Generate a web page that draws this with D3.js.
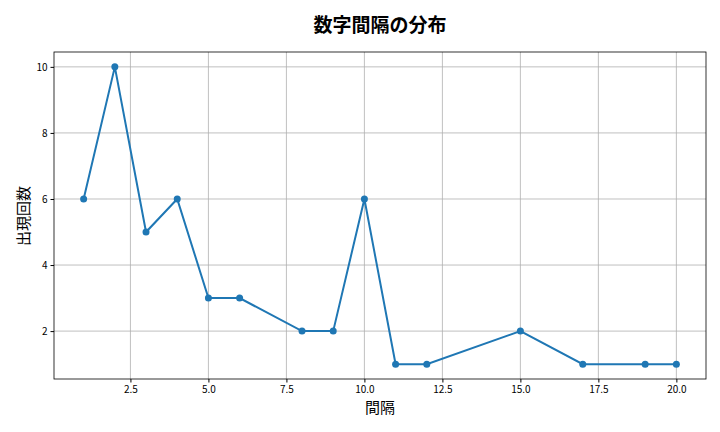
<!DOCTYPE html>
<html><head><meta charset="utf-8">
<script src="https://cdn.jsdelivr.net/npm/d3@7"></script>
<style>body{margin:0;background:#fff}</style></head>
<body><svg id="c" width="720" height="432"></svg>
<script>
const intervals=[1,2,3,4,5,6,8,9,10,11,12,15,17,19,20];
const counts=[6,10,5,6,3,3,2,2,6,1,1,2,1,1,1];
const xTicks=[2.5,5.0,7.5,10.0,12.5,15.0,17.5,20.0];
const yTicks=[2,4,6,8,10];
const font="'Noto Sans CJK JP', sans-serif";
const svg=d3.select("#c");
const L=54,R=706,T=52,B=379;
const x=d3.scaleLinear().domain([0.05,20.95]).range([L,R]);
const y=d3.scaleLinear().domain([0.55,10.45]).range([B,T]);
const g=svg.append("g");
g.selectAll(".gx").data(xTicks).join("line").attr("x1",d=>x(d)).attr("x2",d=>x(d)).attr("y1",T).attr("y2",B).attr("stroke","#b0b0b0").attr("stroke-width",0.8);
g.selectAll(".gy").data(yTicks).join("line").attr("y1",d=>y(d)).attr("y2",d=>y(d)).attr("x1",L).attr("x2",R).attr("stroke","#b0b0b0").attr("stroke-width",0.8);
const xa=svg.append("g").attr("transform",`translate(0,${B})`).call(d3.axisBottom(x).tickValues(xTicks).tickFormat(d3.format(".1f")).tickSize(3.5).tickSizeOuter(0));
const ya=svg.append("g").attr("transform",`translate(${L},0)`).call(d3.axisLeft(y).tickValues(yTicks).tickSize(3.5).tickSizeOuter(0));
[xa,ya].forEach(a=>{a.selectAll("text").attr("font-family",font).attr("font-size",10).attr("fill","#000");a.select(".domain").remove();});
svg.append("rect").attr("x",L).attr("y",T).attr("width",R-L).attr("height",B-T).attr("fill","none").attr("stroke","#000").attr("stroke-width",0.8);
const pts=intervals.map((d,i)=>[d,counts[i]]);
svg.append("path").datum(pts).attr("d",d3.line().x(d=>x(d[0])).y(d=>y(d[1]))).attr("fill","none").attr("stroke","#1f77b4").attr("stroke-width",2);
svg.selectAll(".p").data(pts).join("circle").attr("cx",d=>x(d[0])).attr("cy",d=>y(d[1])).attr("r",3.5).attr("fill","#1f77b4");
svg.append("text").attr("x",380).attr("y",32).attr("text-anchor","middle").attr("font-family",font).attr("font-size",19).attr("font-weight","bold").text("数字間隔の分布");
svg.append("text").attr("x",380).attr("y",413).attr("text-anchor","middle").attr("font-family",font).attr("font-size",15).text("間隔");
svg.append("text").attr("transform","translate(29,216) rotate(-90)").attr("text-anchor","middle").attr("font-family",font).attr("font-size",15).text("出現回数");
</script></body></html>
